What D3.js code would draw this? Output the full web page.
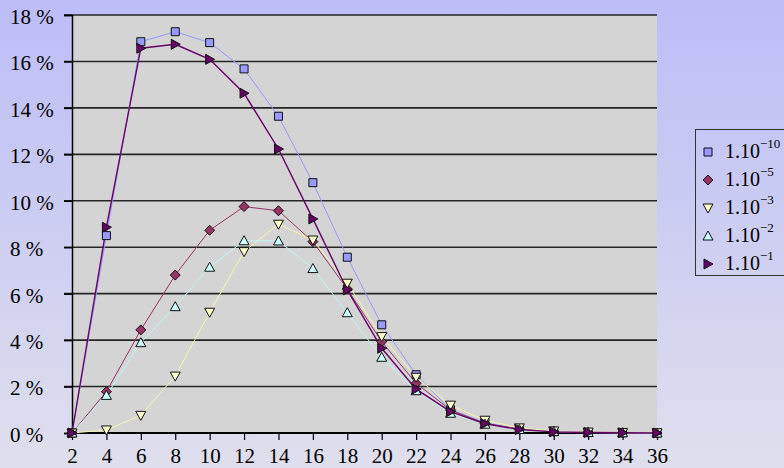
<!DOCTYPE html>
<html><head><meta charset="utf-8">
<script src="https://cdn.jsdelivr.net/npm/d3@7/dist/d3.min.js"></script>
<style>html,body{margin:0;padding:0;overflow:hidden;}svg{display:block;}svg text{font-family:"Liberation Serif","Times New Roman",serif;}</style>
</head><body>
<script>
const categories = [2,4,6,8,10,12,14,16,18,20,22,24,26,28,30,32,34,36];
const yTicks = [0,2,4,6,8,10,12,14,16,18];
const seriesNames = ["−10","−5","−3","−2","−1"];
const s1 = [0, 8.5, 16.85, 17.28, 16.81, 15.68, 13.64, 10.78, 7.57, 4.66, 2.51, 1.0, 0.45, 0.16, 0.06, 0.02, 0.01, 0];
const s2 = [0, 1.78, 4.44, 6.80, 8.73, 9.75, 9.57, 8.24, 6.2, 3.93, 2.14, 0.99, 0.42, 0.17, 0.07, 0.03, 0.01, 0];
const s3 = [0, 0.13, 0.76, 2.45, 5.2, 7.81, 8.99, 8.31, 6.45, 4.15, 2.40, 1.2, 0.55, 0.22, 0.09, 0.04, 0.02, 0.01];
const s4 = [0, 1.62, 3.89, 5.44, 7.14, 8.28, 8.27, 7.08, 5.18, 3.26, 1.82, 0.85, 0.38, 0.15, 0.06, 0.02, 0.01, 0];
const s5 = [0, 8.86, 16.57, 16.74, 16.09, 14.63, 12.23, 9.22, 6.16, 3.65, 1.89, 0.92, 0.4, 0.15, 0.05, 0.02, 0.01, 0];

(function(){
const W = 784, H = 468;
const mL = 72, mR = 657, mT = 15, mB = 433;
const font = "Liberation Serif, Times New Roman, serif";

const svg = d3.select("body").append("svg").attr("width", W).attr("height", H);
const defs = svg.append("defs");
const grad = defs.append("linearGradient").attr("id","bg").attr("x1",0).attr("y1",0).attr("x2",0).attr("y2",1);
grad.append("stop").attr("offset","0%").attr("stop-color","#bcbdf7");
grad.append("stop").attr("offset","100%").attr("stop-color","#dfdfed");
svg.append("rect").attr("width",W).attr("height",H).attr("fill","url(#bg)");

const x = d3.scalePoint().domain(categories).range([mL, mR]);
const y = d3.scaleLinear().domain([0, 18]).range([mB, mT]);

svg.append("rect").attr("x",mL).attr("y",mT).attr("width",mR-mL).attr("height",mB-mT).attr("fill","#d4d4d4");

// gridlines
svg.append("g").selectAll("line").data(yTicks.filter(d=>d>0)).join("line")
  .attr("x1", mL-8).attr("x2", mR).attr("y1", d=>y(d)).attr("y2", d=>y(d))
  .attr("stroke","#262626").attr("stroke-width",1.6);

// y axis
const yAxis = d3.axisLeft(y).tickValues(yTicks).tickSize(8).tickFormat(d => d + " %");
const gy = svg.append("g").attr("transform",`translate(${mL},0)`).call(yAxis);
gy.attr("font-family", null);
gy.select(".domain").attr("stroke","#000").attr("stroke-width",1.5);
gy.selectAll(".tick line").attr("stroke","#000").attr("stroke-width",1.5);
gy.selectAll(".tick text").style("font-family",font).style("font-size","21px").attr("fill","#000")
  .attr("text-anchor","start").attr("x",-62).attr("dy","0.4em");

// x axis
const xAxis = d3.axisBottom(x).tickSize(7).tickPadding(0);
const gx = svg.append("g").attr("transform",`translate(0,${mB})`).call(xAxis);
gx.attr("font-family", null);
gx.select(".domain").attr("stroke","#000").attr("stroke-width",2).attr("d",`M${mL},0H${mR}`);
gx.selectAll(".tick line").attr("stroke","#000").attr("stroke-width",1.2);
gx.selectAll(".tick text").style("font-family",font).style("font-size","21px").attr("fill","#000")
  .attr("y",30).attr("dy",0);

const series = [
  {vals:s1, color:"#9999ff", fill:"#9999ff", shape:"square", lw:1},
  {vals:s2, color:"#993366", fill:"#993366", shape:"diamond", lw:1},
  {vals:s3, color:"#f5f5b0", fill:"#ffffcc", shape:"down", lw:1},
  {vals:s4, color:"#bff5f5", fill:"#ccffff", shape:"up", lw:1},
  {vals:s5, color:"#660066", fill:"#660066", shape:"right", lw:1.4}
];

function markerPath(shape){
  switch(shape){
    case "square": return "M-4,-4H4V4H-4Z";
    case "diamond": return "M0,-5L5,0L0,5L-5,0Z";
    case "down": return "M-5,-4H5L0,5Z";
    case "up": return "M0,-5L5,4H-5Z";
    case "right": return "M-4,-5L5,0L-4,5Z";
  }
}

const line = d3.line().x((d,i)=>x(categories[i])).y(d=>y(d));

series.forEach(s => {
  svg.append("path").datum(s.vals).attr("d", line).attr("fill","none")
    .attr("stroke", s.color).attr("stroke-width", s.lw);
});
series.forEach(s => {
  svg.append("g").selectAll("path").data(s.vals).join("path")
    .attr("transform",(d,i)=>`translate(${x(categories[i])},${y(d)})`)
    .attr("d", markerPath(s.shape)).attr("fill", s.fill).attr("stroke","#111").attr("stroke-width",1);
});

// legend
const lg = svg.append("g");
lg.append("rect").attr("x",695.5).attr("y",129.5).attr("width",120).attr("height",146)
  .attr("fill","none").attr("stroke","#333").attr("stroke-width",1);
series.forEach((s,i) => {
  const by = 158 + i*28;
  lg.append("path").attr("transform",`translate(708,${by-6})`).attr("d", markerPath(s.shape))
    .attr("fill", s.fill).attr("stroke","#111").attr("stroke-width",1);
  const t = lg.append("text").attr("x",725).attr("y",by).style("font-family",font).style("font-size","20px").attr("fill","#000");
  t.append("tspan").text("1.10");
  t.append("tspan").attr("dy",-10).style("font-size","13px").text(seriesNames[i]);
});
})();
</script>
</body></html>
